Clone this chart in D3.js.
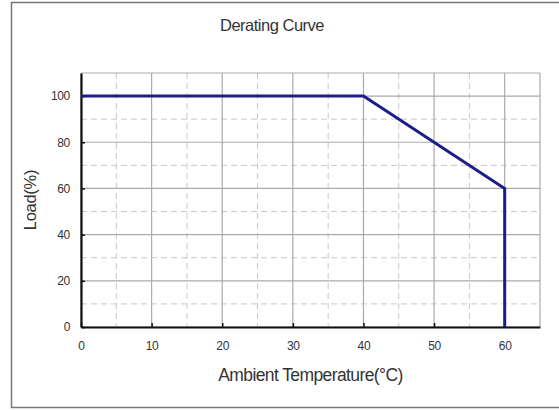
<!DOCTYPE html>
<html>
<head>
<meta charset="utf-8">
<script src="https://cdn.jsdelivr.net/npm/d3@7"></script>
<style>
  body { margin: 0; background: #fff; }
  svg { display: block; font-family: Arial, "Liberation Sans", sans-serif; }
</style>
</head>
<body>
<svg id="chart" width="559" height="410"></svg>
<script>
// derating curve points
var temps = [0, 40, 60, 60];
var loads = [100, 100, 60, 0];
var xTicks = [0, 10, 20, 30, 40, 50, 60];
var yTicks = [0, 20, 40, 60, 80, 100];

var svg = d3.select("#chart"),
    margin = {top: 73, right: 19, bottom: 83, left: 81},
    width = +svg.attr("width") - margin.left - margin.right,
    height = +svg.attr("height") - margin.top - margin.bottom;

// outer frame
svg.append("rect")
    .attr("x", 11.5).attr("y", 2.5)
    .attr("width", 560).attr("height", 405)
    .attr("fill", "none").attr("stroke", "#777").attr("stroke-width", 1.5);

var x = d3.scaleLinear().domain([0, 65]).range([0, width]),
    y = d3.scaleLinear().domain([0, 110]).range([height, 0]);

var g = svg.append("g").attr("transform", "translate(" + margin.left + "," + margin.top + ")");

// minor dashed grid
g.append("g").selectAll("line")
    .data([5, 15, 25, 35, 45, 55])
    .enter().append("line")
    .attr("x1", d => x(d)).attr("x2", d => x(d))
    .attr("y1", 0).attr("y2", height)
    .attr("stroke", "#c8c8c8").attr("stroke-dasharray", "6,4");
g.append("g").selectAll("line")
    .data([10, 30, 50, 70, 90])
    .enter().append("line")
    .attr("y1", d => y(d)).attr("y2", d => y(d))
    .attr("x1", 0).attr("x2", width)
    .attr("stroke", "#c8c8c8").attr("stroke-dasharray", "6,4");

// major solid grid
g.append("g").selectAll("line")
    .data(xTicks.concat([65]))
    .enter().append("line")
    .attr("x1", d => x(d)).attr("x2", d => x(d))
    .attr("y1", 0).attr("y2", height)
    .attr("stroke", "#aaa").attr("stroke-width", 1.2);
g.append("g").selectAll("line")
    .data(yTicks.concat([110]))
    .enter().append("line")
    .attr("y1", d => y(d)).attr("y2", d => y(d))
    .attr("x1", 0).attr("x2", width)
    .attr("stroke", "#aaa").attr("stroke-width", 1.2);

// axes
var xAxis = g.append("g")
    .attr("transform", "translate(0," + height + ")")
    .call(d3.axisBottom(x).tickValues(xTicks).tickSizeInner(-4).tickSizeOuter(0).tickPadding(14));
var yAxis = g.append("g")
    .call(d3.axisLeft(y).tickValues(yTicks).tickSizeInner(-4).tickSizeOuter(0).tickPadding(11));

[xAxis, yAxis].forEach(function(a) {
    a.select(".domain").attr("stroke", "#111").attr("stroke-width", 2.2);
    a.selectAll(".tick line").attr("stroke", "#111").attr("stroke-width", 1.5);
    a.selectAll(".tick text").attr("fill", "#333").style("font-size", "12px").style("letter-spacing", "-0.3px");
});

// curve
var line = d3.line()
    .x(function(d, i) { return x(temps[i]); })
    .y(function(d, i) { return y(loads[i]); });

g.append("path")
    .datum(temps)
    .attr("d", line)
    .attr("fill", "none")
    .attr("stroke", "#1c1c8a")
    .attr("stroke-width", 3)
    .attr("stroke-linejoin", "miter");

// titles
svg.append("text")
    .attr("x", 272).attr("y", 31)
    .attr("text-anchor", "middle")
    .attr("fill", "#333")
    .style("font-size", "16.5px")
    .style("letter-spacing", "-0.5px")
    .text("Derating Curve");

svg.append("text")
    .attr("x", margin.left + width / 2).attr("y", 381)
    .attr("text-anchor", "middle")
    .attr("fill", "#333")
    .style("font-size", "17.5px")
    .style("letter-spacing", "-0.6px")
    .text("Ambient Temperature(°C)");

svg.append("text")
    .attr("transform", "translate(36," + (margin.top + height / 2) + ") rotate(-90)")
    .attr("text-anchor", "middle")
    .attr("fill", "#333")
    .style("font-size", "16.5px")
    .style("letter-spacing", "-0.3px")
    .text("Load(%)");
</script>
</body>
</html>
